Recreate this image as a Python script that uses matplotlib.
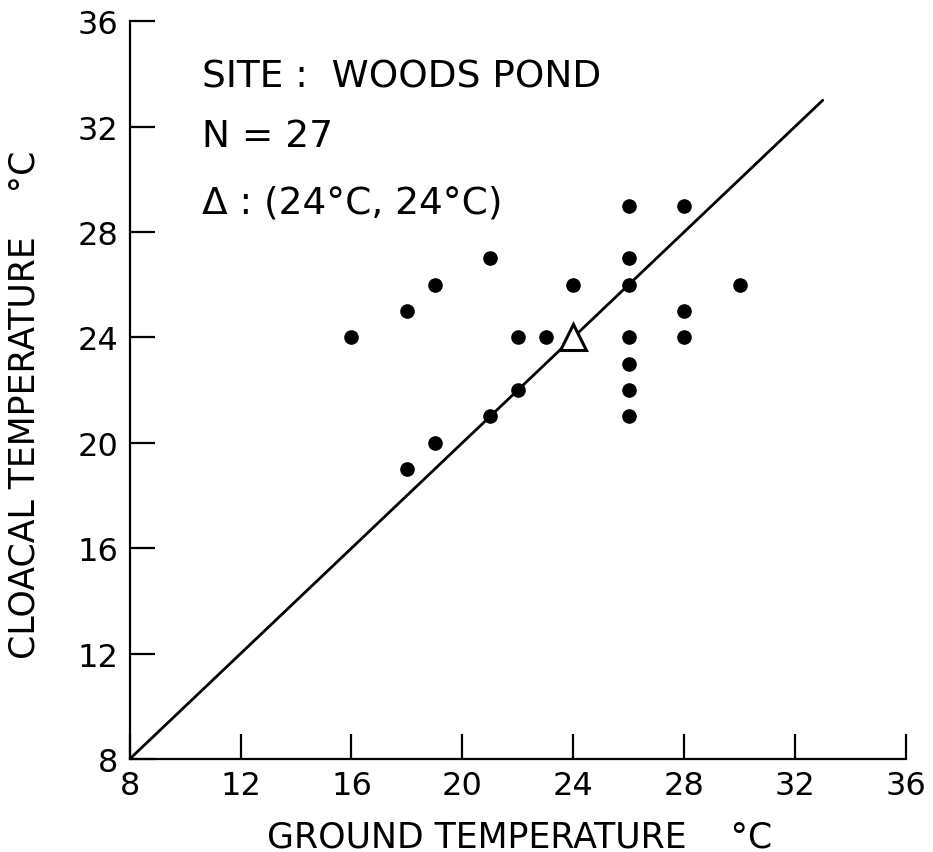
import matplotlib
matplotlib.use("Agg")
import matplotlib.pyplot as plt

# Data
ground = [16, 18, 18, 19, 19, 21, 21, 22, 22, 23, 24, 26, 26, 26, 26, 26, 26, 26, 28, 28, 28, 30]
cloacal = [24, 25, 19, 26, 20, 27, 21, 24, 22, 24, 26, 29, 27, 26, 24, 23, 22, 21, 29, 25, 24, 26]
mean_point = (24, 24)
line_x = [8, 33]
line_y = [8, 33]
ticks = [8, 12, 16, 20, 24, 28, 32, 36]
annotations = ['SITE :  WOODS POND', 'N = 27', '\u0394 : (24°C, 24°C)']

plt.rcParams['font.family'] = ['DejaVu Sans']

fig = plt.figure(figsize=(9.33, 8.53), dpi=100)
ax = fig.add_axes([0.139, 0.109, 0.832, 0.865])

ax.plot(line_x, line_y, color='black', lw=2.0, solid_capstyle='round', zorder=2)
ax.plot(ground, cloacal, 'o', color='black', markersize=9.5, zorder=3)
ax.plot([mean_point[0]], [mean_point[1]], '^', markersize=19, markerfacecolor='white',
        markeredgecolor='black', markeredgewidth=2.2, zorder=4)

ax.set_xlim(8, 36)
ax.set_ylim(8, 36)
ax.set_xticks(ticks)
ax.set_yticks(ticks)
ax.set_xticklabels([str(t) for t in ticks])
ax.set_yticklabels([str(t) for t in ticks])

for s in ['top', 'right']:
    ax.spines[s].set_visible(False)
for s in ['left', 'bottom']:
    ax.spines[s].set_linewidth(1.6)

ax.tick_params(direction='in', length=18, width=1.6, labelsize=23, pad=8, colors='black')

ax.set_xlabel('GROUND TEMPERATURE    °C', fontsize=25, va='baseline')
ax.xaxis.set_label_coords(0.5026, -0.1179)
ax.set_ylabel('CLOACAL TEMPERATURE    °C', fontsize=25, va='baseline')
ax.yaxis.set_label_coords(-0.1224, 0.481)

tk = dict(fontsize=27, ha='left', va='baseline', color='black')
ax.text(10.6, 33.53, annotations[0], **tk)
ax.text(10.6, 31.25, annotations[1], **tk)
ax.text(10.6, 28.74, annotations[2], **tk)

fig.savefig('out.png', dpi=100, facecolor='white')
